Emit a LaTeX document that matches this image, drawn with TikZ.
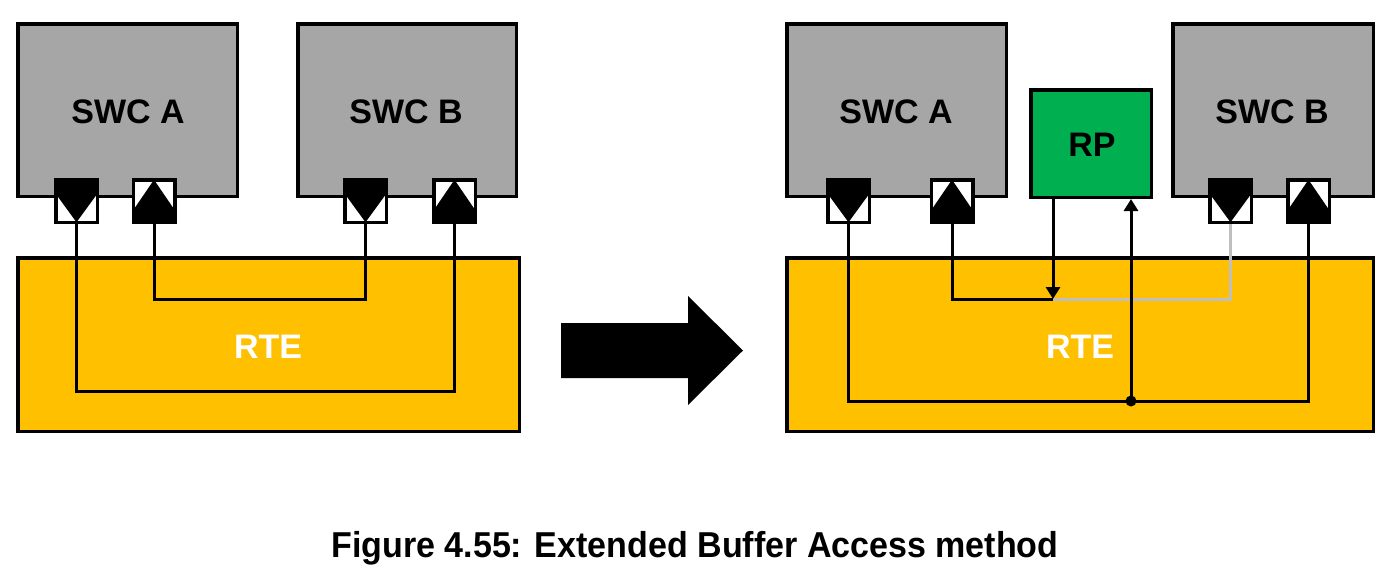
\documentclass[tikz,border=0pt]{standalone}
\usepackage{fontspec}
\setmainfont{Liberation Sans}
\usetikzlibrary{arrows.meta}
\definecolor{swcgray}{HTML}{A6A6A6}
\definecolor{rtegold}{HTML}{FFC000}
\definecolor{rpgreen}{HTML}{00B050}
\definecolor{linegray}{HTML}{BFBFBF}
\tikzset{
  box/.style={draw=black, line width=3.5pt, inner sep=0pt},
  lbl/.style={inner sep=0pt, font=\fontsize{34}{36}\selectfont\bfseries},
  swcbox/.style={box, fill=swcgray},
  rtebox/.style={box, fill=rtegold},
  rpbox/.style={box, fill=rpgreen},
  portbase/.style={draw=black, fill=white, line width=3.5pt, inner sep=0pt, minimum width=41.5pt, minimum height=42.5pt},
  portdown/.style={portbase, path picture={
      \fill[black] ([xshift=-31pt]path picture bounding box.north) -- ([xshift=31pt]path picture bounding box.north) -- (path picture bounding box.south) -- cycle;}},
  portup/.style={portbase, path picture={
      \fill[black] ([xshift=-29pt]path picture bounding box.south) -- ([xshift=29pt]path picture bounding box.south) -- (path picture bounding box.north) -- cycle;}},
  conn/.style={draw=black, line width=3pt},
  grayconn/.style={draw=linegray, line width=3pt},
  tip/.style={-{Triangle[width=14pt,length=12pt]}},
  bigarrow/.style={fill=black, draw=none},
}
\begin{document}
\begin{tikzpicture}[x=1pt,y=-1pt]
\useasboundingbox (0,0) rectangle (1400,574);
% ---------- left diagram ----------
\node[rtebox, minimum width=501.5pt, minimum height=173.5pt] (rteL) at (268.5,344.5) {};
\node[lbl, text=white] (rteLt) at (268,347) {RTE};
\node[swcbox, minimum width=219.5pt, minimum height=172.5pt] (swcAL) at (127.5,110) {};
\node[lbl] (swcALt) at (128,112) {SWC A};
\node[swcbox, minimum width=218.5pt, minimum height=172.5pt] (swcBL) at (407,110) {};
\node[lbl] (swcBLt) at (406,112) {SWC B};
\node[portdown] (pA1L) at (76.5,201) {};
\node[portup] (pA2L) at (154,201) {};
\node[portdown] (pB1L) at (365.5,201) {};
\node[portup] (pB2L) at (454.5,201) {};
\coordinate (lowL) at (250,391);
\coordinate (midL) at (250,299);
\draw[conn] (pA1L.south) |- (lowL) -| (pB2L.south);
\draw[conn] (pA2L.south) |- (midL) -| (pB1L.south);
% ---------- big arrow ----------
\fill[bigarrow] (561,323) -- (688,323) -- (688,296) -- (743,350.5) -- (688,405) -- (688,378) -- (561,378) -- cycle;
% ---------- right diagram ----------
\node[rtebox, minimum width=586.5pt, minimum height=173.5pt] (rteR) at (1080,344.5) {};
\node[lbl, text=white] (rteRt) at (1080,347) {RTE};
\node[swcbox, minimum width=219.5pt, minimum height=172.5pt] (swcAR) at (896.5,110) {};
\node[lbl] (swcARt) at (896,112) {SWC A};
\node[rpbox, minimum width=120.5pt, minimum height=107.5pt] (rp) at (1091,143.5) {};
\node[lbl] (rpt) at (1092,145) {RP};
\node[swcbox, minimum width=200.5pt, minimum height=172.5pt] (swcBR) at (1273,110) {};
\node[lbl] (swcBRt) at (1272,112) {SWC B};
\node[portdown] (pA1R) at (848.5,201) {};
\node[portup] (pA2R) at (952,201) {};
\node[portdown] (pB1R) at (1230.5,201) {};
\node[portup] (pB2R) at (1308.5,201) {};
\coordinate (junc) at (1131,401);
\coordinate (rpin) at (1053,299);
\draw[grayconn] (rpin) -| (pB1R.south);
\draw[conn] (pA1R.south) |- (junc) -| (pB2R.south);
\draw[conn] (pA2R.south) |- (rpin);
\draw[conn, tip] (junc) -- (junc |- rp.south);
\draw[conn, tip] (rpin |- rp.south) -- (rpin);
\fill[black] (junc) circle (5.5pt);
% ---------- caption ----------
\node[anchor=base, inner sep=0pt, font=\fontsize{36}{40}\selectfont\bfseries] (cap) at (695,557) {\scalebox{0.945}[1]{Figure 4.55: Extended Buffer Access method}};
\end{tikzpicture}
\end{document}
